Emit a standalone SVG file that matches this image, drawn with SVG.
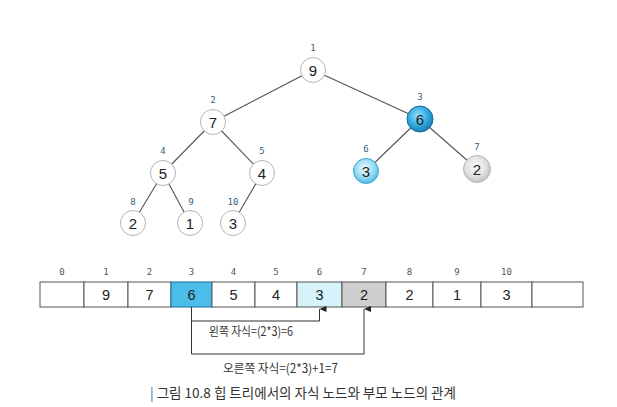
<svg xmlns="http://www.w3.org/2000/svg" width="617" height="407" viewBox="0 0 617 407">
<style>
.edge{stroke:#555;stroke-width:1.1;fill:none}
.wn{fill:#fff;stroke:#b4b4b4;stroke-width:1}
.val{font-family:"Liberation Sans",Arial,sans-serif;font-size:15px;fill:#222;text-anchor:middle}
.idx{font-family:"DejaVu Sans Mono",monospace;font-size:9px;fill:#2f5f7f;text-anchor:middle}
.aidx{font-family:"DejaVu Sans Mono",monospace;font-size:9px;fill:#555;text-anchor:middle}
.cell{fill:#fff;stroke:#555;stroke-width:1}
.aval{font-family:"Liberation Sans",Arial,sans-serif;font-size:14.5px;fill:#222;text-anchor:middle}
.ko{font-family:"Noto Sans CJK KR",sans-serif;fill:#333}
.conn{stroke:#333;stroke-width:1;fill:none}
</style>
<defs>
<radialGradient id="gBlue" cx="0.42" cy="0.38" r="0.65">
<stop offset="0" stop-color="#9be0f8"/>
<stop offset="0.55" stop-color="#34aee2"/>
<stop offset="1" stop-color="#1579b4"/>
</radialGradient>
<radialGradient id="gLight" cx="0.45" cy="0.4" r="0.62">
<stop offset="0" stop-color="#eefafe"/>
<stop offset="0.6" stop-color="#9adbf3"/>
<stop offset="1" stop-color="#4ab5e3"/>
</radialGradient>
<radialGradient id="gGray" cx="0.45" cy="0.4" r="0.62">
<stop offset="0" stop-color="#fafafa"/>
<stop offset="0.6" stop-color="#e2e2e2"/>
<stop offset="1" stop-color="#bdbdbd"/>
</radialGradient>
<marker id="arr" viewBox="0 0 6 7" refX="3" refY="0" markerWidth="6" markerHeight="7" orient="auto-start-reverse" markerUnits="userSpaceOnUse">
<path d="M0,7 L3,0 L6,7 Z" fill="#222"/>
</marker>
</defs>

<g id="edges">
<line class="edge" x1="313" y1="70" x2="213" y2="122"/>
<line class="edge" x1="313" y1="70" x2="420" y2="119"/>
<line class="edge" x1="213" y1="122" x2="163" y2="173"/>
<line class="edge" x1="213" y1="122" x2="262" y2="173"/>
<line class="edge" x1="163" y1="173" x2="133" y2="223"/>
<line class="edge" x1="163" y1="173" x2="190" y2="223"/>
<line class="edge" x1="262" y1="173" x2="233" y2="223"/>
<line class="edge" x1="420" y1="119" x2="366" y2="171"/>
<line class="edge" x1="420" y1="119" x2="477" y2="169"/>
</g>

<g id="node1"><text class="idx" x="313" y="51">1</text><circle class="wn" cx="313" cy="70" r="12.5"/><text class="val" x="313" y="75.5">9</text></g>
<g id="node2"><text class="idx" x="213" y="103">2</text><circle class="wn" cx="213" cy="122" r="12.5"/><text class="val" x="213" y="127.5">7</text></g>
<g id="node3"><text class="idx" x="420" y="100">3</text><circle cx="420" cy="119" r="13" fill="url(#gBlue)" stroke="#1a6c9e" stroke-width="1"/><text class="val" x="420" y="124.5">6</text></g>
<g id="node4"><text class="idx" x="163" y="154">4</text><circle class="wn" cx="163" cy="173" r="12.5"/><text class="val" x="163" y="178.5">5</text></g>
<g id="node5"><text class="idx" x="262" y="154">5</text><circle class="wn" cx="262" cy="173" r="12.5"/><text class="val" x="262" y="178.5">4</text></g>
<g id="node6"><text class="idx" x="366" y="152">6</text><circle cx="366" cy="171" r="12.5" fill="url(#gLight)" stroke="#3aa6d6" stroke-width="1"/><text class="val" x="366" y="176.5">3</text></g>
<g id="node7"><text class="idx" x="477" y="150">7</text><circle cx="477" cy="169" r="13.5" fill="url(#gGray)" stroke="#b8b8b8" stroke-width="1"/><text class="val" x="477" y="174.5">2</text></g>
<g id="node8"><text class="idx" x="133" y="205">8</text><circle class="wn" cx="133" cy="223" r="12.5"/><text class="val" x="133" y="228.5">2</text></g>
<g id="node9"><text class="idx" x="191" y="205">9</text><circle class="wn" cx="190" cy="223" r="12.5"/><text class="val" x="190" y="228.5">1</text></g>
<g id="node10"><text class="idx" x="233" y="205">10</text><circle class="wn" cx="233" cy="223" r="12.5"/><text class="val" x="233" y="228.5">3</text></g>

<g id="array">
<rect class="cell" x="40" y="282" width="44" height="25"/>
<rect class="cell" x="84" y="282" width="44" height="25"/>
<rect class="cell" x="128" y="282" width="43" height="25"/>
<rect x="171" y="282" width="41" height="25" fill="#4cbde8" stroke="#1f6f98" stroke-width="1"/>
<rect class="cell" x="212" y="282" width="43" height="25"/>
<rect class="cell" x="255" y="282" width="42" height="25"/>
<rect x="297" y="282" width="45" height="25" fill="#d6f3fb" stroke="#555" stroke-width="1"/>
<rect x="342" y="282" width="44" height="25" fill="#cfcfcf" stroke="#555" stroke-width="1"/>
<rect class="cell" x="386" y="282" width="47" height="25"/>
<rect class="cell" x="433" y="282" width="48" height="25"/>
<rect class="cell" x="481" y="282" width="51" height="25"/>
<rect class="cell" x="532" y="282" width="51" height="25"/>
<text class="aidx" x="62" y="275">0</text>
<text class="aidx" x="106" y="275">1</text>
<text class="aidx" x="149.5" y="275">2</text>
<text class="aidx" x="191.5" y="275">3</text>
<text class="aidx" x="233.5" y="275">4</text>
<text class="aidx" x="276" y="275">5</text>
<text class="aidx" x="319.5" y="275">6</text>
<text class="aidx" x="364" y="275">7</text>
<text class="aidx" x="409.5" y="275">8</text>
<text class="aidx" x="457" y="275">9</text>
<text class="aidx" x="506.5" y="275">10</text>
<text class="aval" x="106" y="300">9</text>
<text class="aval" x="149.5" y="300">7</text>
<text class="aval" x="191.5" y="300">6</text>
<text class="aval" x="233.5" y="300">5</text>
<text class="aval" x="276" y="300">4</text>
<text class="aval" x="319.5" y="300">3</text>
<text class="aval" x="364" y="300">2</text>
<text class="aval" x="409.5" y="300">2</text>
<text class="aval" x="457" y="300">1</text>
<text class="aval" x="506.5" y="300">3</text>
</g>

<g id="connectors">
<path class="conn" d="M191.5,307 V321 H319.5 V309" marker-end="url(#arr)"/>
<path class="conn" d="M191.5,321 V354 H364 V309" marker-end="url(#arr)"/>
</g>

<g id="labels">
<text class="ko" x="209" y="336" font-size="12.5" textLength="84" lengthAdjust="spacingAndGlyphs">왼쪽 자식=(2*3)=6</text>
<text class="ko" x="223" y="373" font-size="12.5" textLength="115" lengthAdjust="spacingAndGlyphs">오른쪽 자식=(2*3)+1=7</text>
<text class="ko" x="150" y="398" font-size="13.5" textLength="306" lengthAdjust="spacingAndGlyphs"><tspan fill="#3a6ea8">|</tspan> 그림 10.8  힙 트리에서의 자식 노드와 부모 노드의 관계</text>
</g>
</svg>
